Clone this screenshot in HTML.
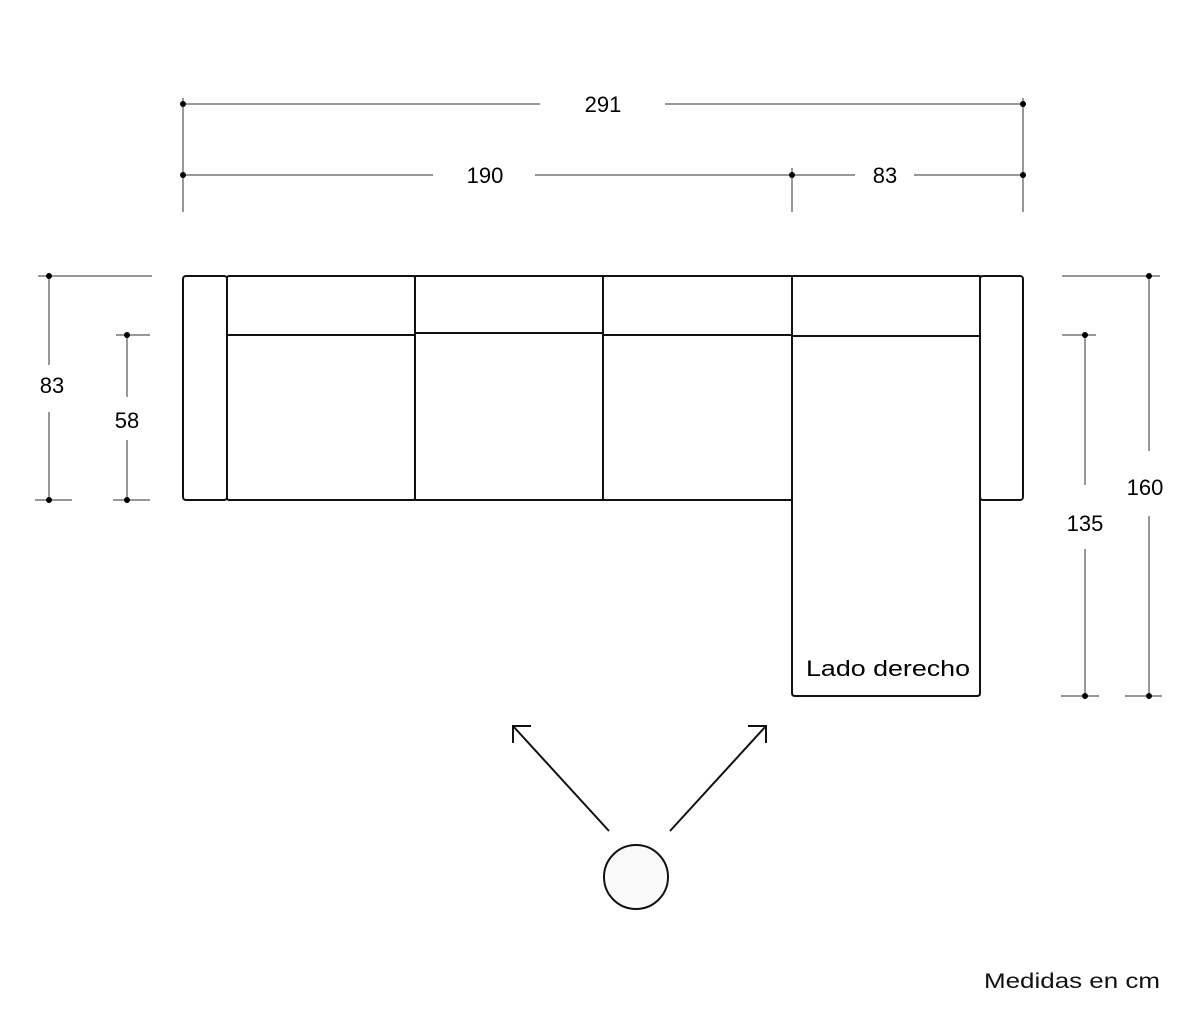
<!DOCTYPE html>
<html><head><style>html,body{margin:0;padding:0;background:#fff;}svg{display:block;}</style></head>
<body>
<svg width="1200" height="1028" viewBox="0 0 1200 1028" xmlns="http://www.w3.org/2000/svg" font-family="Liberation Sans, sans-serif">
<rect width="1200" height="1028" fill="#fff"/>
<g stroke="#777" stroke-width="1.5" fill="none">
<!-- top dims -->
<line x1="183" y1="98" x2="183" y2="212"/>
<line x1="1023" y1="98" x2="1023" y2="212"/>
<line x1="792" y1="168" x2="792" y2="212"/>
<line x1="183" y1="104" x2="540" y2="104"/>
<line x1="665" y1="104" x2="1023" y2="104"/>
<line x1="183" y1="175" x2="433" y2="175"/>
<line x1="535" y1="175" x2="792" y2="175"/>
<line x1="792" y1="175" x2="855" y2="175"/>
<line x1="914" y1="175" x2="1023" y2="175"/>
<!-- left dims -->
<line x1="38" y1="276" x2="152" y2="276"/>
<line x1="49" y1="276" x2="49" y2="365"/>
<line x1="49" y1="412" x2="49" y2="500"/>
<line x1="35" y1="500" x2="72" y2="500"/>
<line x1="116" y1="335" x2="150" y2="335"/>
<line x1="127" y1="335" x2="127" y2="397"/>
<line x1="127" y1="440" x2="127" y2="500"/>
<line x1="113" y1="500" x2="150" y2="500"/>
<!-- right dims -->
<line x1="1062" y1="276" x2="1160" y2="276"/>
<line x1="1149" y1="276" x2="1149" y2="451"/>
<line x1="1149" y1="516" x2="1149" y2="696"/>
<line x1="1125" y1="696" x2="1162" y2="696"/>
<line x1="1062" y1="335" x2="1096" y2="335"/>
<line x1="1085" y1="335" x2="1085" y2="485"/>
<line x1="1085" y1="549" x2="1085" y2="696"/>
<line x1="1061" y1="696" x2="1099" y2="696"/>
</g>
<g fill="#000">
<circle cx="183" cy="104" r="3"/><circle cx="1023" cy="104" r="3"/>
<circle cx="183" cy="175" r="3"/><circle cx="792" cy="175" r="3"/><circle cx="1023" cy="175" r="3"/>
<circle cx="49" cy="276" r="3"/><circle cx="49" cy="500" r="3"/>
<circle cx="127" cy="335" r="3"/><circle cx="127" cy="500" r="3"/>
<circle cx="1149" cy="276" r="3"/><circle cx="1149" cy="696" r="3"/>
<circle cx="1085" cy="335" r="3"/><circle cx="1085" cy="696" r="3"/>
</g>
<g font-size="22" fill="#000" text-anchor="middle">
<text x="603" y="112">291</text>
<text x="485" y="183">190</text>
<text x="885" y="183">83</text>
<text x="52" y="393">83</text>
<text x="127" y="428">58</text>
<text x="1145" y="495">160</text>
<text x="1085" y="531">135</text>
</g>
<!-- sofa -->
<g stroke="#111" stroke-width="2" fill="none" stroke-linejoin="round">
<rect x="183" y="276" width="44" height="224" rx="3"/>
<rect x="980" y="276" width="43" height="224" rx="3"/>
<rect x="227" y="276" width="188" height="224" rx="2"/>
<rect x="415" y="276" width="188" height="224"/>
<rect x="603" y="276" width="189" height="224"/>
<path d="M792 276 H980 V693 Q980 696 977 696 H795 Q792 696 792 693 Z"/>
<line x1="227" y1="335" x2="415" y2="335"/>
<line x1="415" y1="333" x2="603" y2="333"/>
<line x1="603" y1="335" x2="792" y2="335"/>
<line x1="792" y1="336" x2="980" y2="336"/>
</g>
<text x="806" y="676" font-size="22" fill="#000" textLength="164" lengthAdjust="spacingAndGlyphs">Lado derecho</text>
<!-- arrows -->
<g stroke="#111" stroke-width="2" fill="none">
<line x1="609" y1="831" x2="513" y2="726"/>
<polyline points="531,726 513,726 513,743"/>
<line x1="670" y1="831" x2="766" y2="726"/>
<polyline points="748,726 766,726 766,743"/>
<circle cx="636" cy="877" r="32" fill="#fafafa"/>
</g>
<text x="984" y="988" font-size="21" fill="#111" textLength="176" lengthAdjust="spacingAndGlyphs">Medidas en cm</text>
</svg>
</body></html>
